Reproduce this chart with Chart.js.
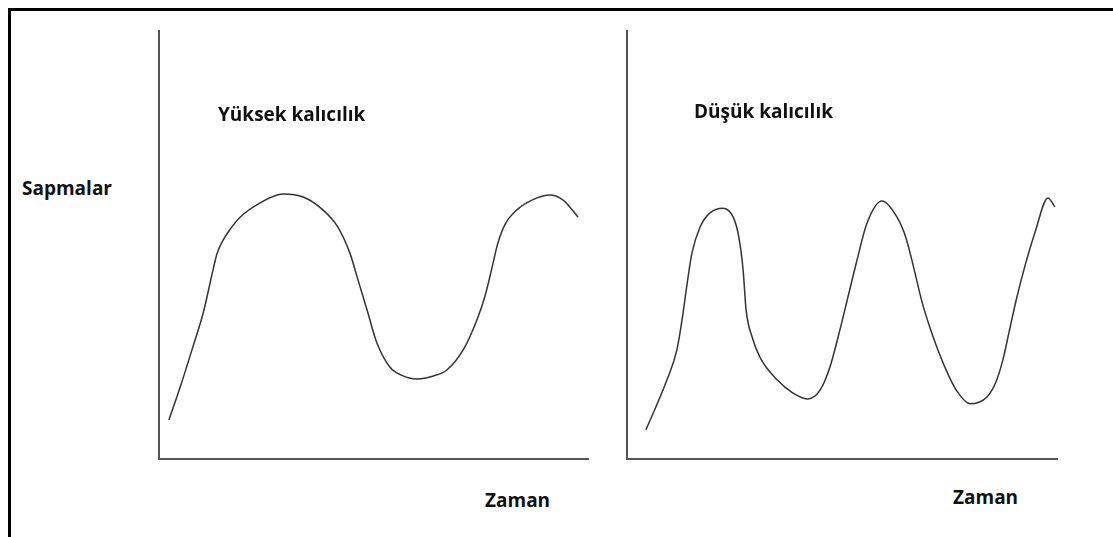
<!DOCTYPE html>
<html>
<head>
<meta charset="utf-8">
<script src="https://cdn.jsdelivr.net/npm/chart.js@4/dist/chart.umd.min.js"></script>
<style>
  body { margin: 0; background: #fff; width: 1113px; height: 537px; overflow: hidden; position: relative; }
  .frame { position: absolute; left: 8px; top: 8px; right: 0; bottom: 0; border-top: 3px solid #000; border-left: 3px solid #000; }
  .box { position: absolute; }
  .lbl { position: absolute; font-family: "Open Sans", sans-serif; font-weight: 700; font-size: 19px; color: #111; transform: translateY(-50%); white-space: nowrap; }
</style>
</head>
<body>
<div class="frame"></div>
<div class="box" style="left:149px; top:21px; width:450px; height:448px;"><canvas id="yuksek"></canvas></div>
<div class="box" style="left:617px; top:21px; width:451px; height:448px;"><canvas id="dusuk"></canvas></div>

<div class="lbl" style="left:218px; top:114px;">Yüksek kalıcılık</div>
<div class="lbl" style="left:694px; top:111px;">Düşük kalıcılık</div>
<div class="lbl" style="left:22px; top:188px;">Sapmalar</div>
<div class="lbl" style="left:485px; top:500px;">Zaman</div>
<div class="lbl" style="left:953px; top:497px;">Zaman</div>

<script>
// yüksek kalıcılık: zaman ve sapma değerleri
const yuksekZaman = [2.3, 5.1, 7.9, 10.3, 12.6, 13.5, 14.7, 16.6, 18.9, 23.5, 28.9, 33.6, 38.2, 41.7, 44.5, 46.4, 48.5, 50.8, 53.8, 56.5, 60.1, 64.0, 67.1, 70.9, 74.1, 76.0, 77.6, 79.0, 80.7, 83.4, 88.1, 91.1, 94.2, 97.7];
const yuksekSapma = [9.1, 17.3, 26.2, 34.1, 44.2, 47.9, 50.7, 53.7, 56.5, 59.8, 61.9, 61.2, 58.2, 54.2, 48.1, 41.8, 34.8, 27.1, 21.5, 19.6, 18.7, 19.4, 20.8, 25.5, 32.5, 38.1, 44.6, 50.5, 54.9, 58.2, 61.0, 61.7, 60.5, 56.5];

// düşük kalıcılık: zaman ve sapma değerleri
const dusukZaman = [4.4, 9.3, 11.6, 12.8, 14.0, 15.1, 17.0, 19.3, 22.3, 24.7, 26.0, 27.0, 27.7, 29.1, 30.9, 34.9, 38.6, 41.9, 44.9, 47.2, 49.5, 51.4, 53.5, 55.8, 59.3, 62.8, 64.9, 66.7, 68.8, 71.2, 74.0, 76.7, 79.8, 83.7, 85.8, 87.4, 88.8, 90.5, 92.6, 94.9, 97.9, 99.5];
const dusukSapma = [6.8, 18.5, 25.5, 32.5, 41.1, 48.1, 54.2, 57.5, 58.6, 56.5, 51.9, 44.2, 34.8, 28.5, 23.8, 18.5, 15.4, 14.0, 16.1, 21.5, 30.1, 37.9, 46.5, 55.1, 60.3, 56.5, 51.6, 44.6, 36.0, 28.5, 21.3, 15.9, 12.9, 14.5, 18.0, 23.1, 29.4, 37.1, 45.3, 53.0, 61.0, 58.9];

function eksen() {
    return {
        type: 'linear',
        min: 0,
        max: 100,
        grid: { display: false, drawTicks: false },
        ticks: { display: false },
        border: { display: true, color: '#555', width: 2 }
    };
}

function grafik(id, zaman, sapma, sag) {
    const ctx = document.getElementById(id).getContext('2d');
    return new Chart(ctx, {
        type: 'line',
        data: {
            datasets: [{
                data: zaman.map((x, i) => ({ x: x, y: sapma[i] })),
                borderColor: '#333',
                borderWidth: 1.5,
                pointRadius: 0,
                cubicInterpolationMode: 'monotone',
                fill: false
            }]
        },
        options: {
            responsive: true,
            maintainAspectRatio: false,
            animation: false,
            layout: { padding: { left: 10, top: 10, right: sag, bottom: 10 } },
            plugins: { legend: { display: false }, tooltip: { enabled: false } },
            scales: { x: eksen(), y: eksen() }
        }
    });
}

grafik('yuksek', yuksekZaman, yuksekSapma, 11);
grafik('dusuk', dusukZaman, dusukSapma, 11);
</script>
</body>
</html>
